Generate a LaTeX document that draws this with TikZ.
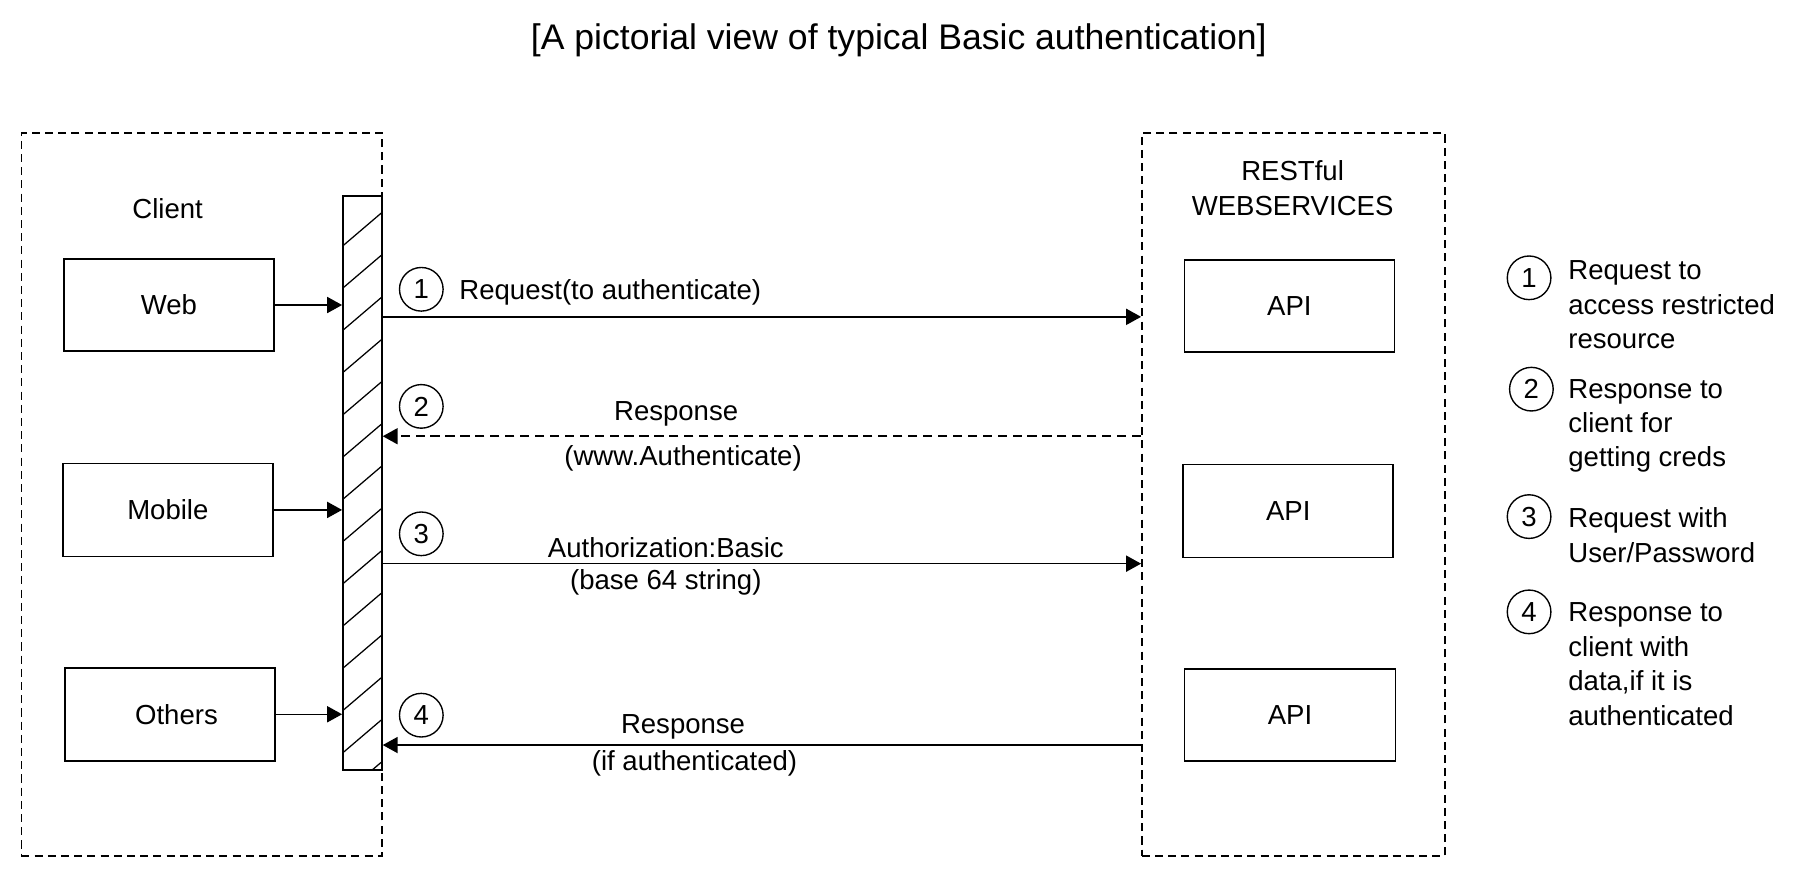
\documentclass[tikz,border=0pt]{standalone}
\usepackage{fontspec}
\setmainfont{Liberation Sans}
\usetikzlibrary{arrows.meta}
\begin{document}
\begin{tikzpicture}[x=1pt,y=-1pt,
  txt/.style={font=\fontsize{24}{30}\selectfont, inner sep=0pt},
  box/.style={draw, line width=1.4pt, minimum width=183pt, minimum height=80pt, anchor=north west, inner sep=0pt, font=\fontsize{24}{30}\selectfont},
  group/.style={draw, dash pattern=on 7pt off 4.5pt, line width=1.3pt, anchor=north west, inner sep=0pt},
  num/.style={circle, draw, line width=1.2pt, minimum size=38pt, inner sep=0pt, font=\fontsize{24}{30}\selectfont},
  conn/.style={line width=1.3pt, -{Triangle[length=13pt,width=14pt]}},
]
\useasboundingbox (0,0) rectangle (1568,763);

% title
\node[font=\fontsize{31}{36}\selectfont, anchor=base, inner sep=0pt] (title) at (783,43) {[A pictorial view of typical Basic authentication]};

% groups
\node[group, minimum width=314pt, minimum height=630pt] (client) at (18,115) {};
\node[group, minimum width=264pt, minimum height=630pt] (rs) at (994,115) {};

\node[txt, anchor=base] (clientlbl) at (146,190.6) {Client};
\node[txt, anchor=base] (rs1) at (1126,157.6) {RESTful};
\node[txt, anchor=base] (rs2) at (1126,187.6) {WEBSERVICES};

% hatched bar
\node[draw, line width=1.4pt, minimum width=34pt, minimum height=500pt, anchor=north west, inner sep=0pt] (bar) at (298,170) {};
\begin{scope}
  \clip (bar.south west) rectangle (bar.north east);
  \foreach \i in {0,...,13}{
    \draw[line width=1.1pt] (298,{214.7+36.8*\i}) -- (332,{185.7+36.8*\i});
  }
\end{scope}

% client boxes
\node[box] (web) at (55,225) {Web};
\node[box, minimum height=81pt] (mobile) at (54,403) {Mobile};
\node[box, minimum height=81pt] (others) at (56,581) {\hspace*{11pt}Others};

\draw[conn] (web.east) -- (web.east -| bar.west);
\draw[conn] (mobile.east) -- (mobile.east -| bar.west);
\draw[conn] (others.east) -- (others.east -| bar.west);

% API boxes
\node[box] (api1) at (1031,226) {API};
\node[box, minimum height=81pt] (api2) at (1030,404) {API};
\node[box, minimum width=184pt] (api3) at (1031,582) {API};

% messages
\coordinate (y1) at (0,276);
\coordinate (y2) at (0,380);
\coordinate (y3) at (0,491);
\coordinate (y4) at (0,649);

\draw[conn] (bar.east |- y1) -- (rs.west |- y1);
\draw[conn, dash pattern=on 8pt off 5pt] (rs.west |- y2) -- (bar.east |- y2);
\draw[conn] (bar.east |- y3) -- (rs.west |- y3);
\draw[conn] (rs.west |- y4) -- (bar.east |- y4);

\node[num] (n1) at (367,252) {1};
\node[num] (n2) at (367,354) {2};
\node[num] (n3) at (367,465) {3};
\node[num] (n4) at (367,623) {4};

\node[txt, anchor=base west] (m1) at (400,260.6) {Request(to authenticate)};
\node[txt, anchor=base] (m2a) at (589,366.6) {Response};
\node[txt, anchor=base] (m2b) at (595,405.6) {(www.Authenticate)};
\node[txt, anchor=base] (m3a) at (580,485.6) {Authorization:Basic};
\node[txt, anchor=base] (m3b) at (580,513.6) {(base 64 string)};
\node[txt, anchor=base] (m4a) at (595,638.6) {Response};
\node[txt, anchor=base] (m4b) at (605,671.6) {(if authenticated)};

% legend
\node[num] (k1) at (1332,242) {1};
\node[num] (k2) at (1334,339) {2};
\node[num] (k3) at (1332,450) {3};
\node[num] (k4) at (1332,533) {4};

\node[txt, anchor=north west, align=left] (l1) at (1366,222.6) {\strut Request to\\access restricted\\resource};
\node[txt, anchor=north west, align=left] (l2) at (1366,325.6) {\strut Response to\\client for\\getting creds};
\node[txt, anchor=north west, align=left] (l3) at (1366,438.6) {\strut Request with\\User/Password};
\node[txt, anchor=north west, align=left] (l4) at (1366,520.6) {\strut Response to\\client with\\data,if it is\\authenticated};
\end{tikzpicture}
\end{document}
